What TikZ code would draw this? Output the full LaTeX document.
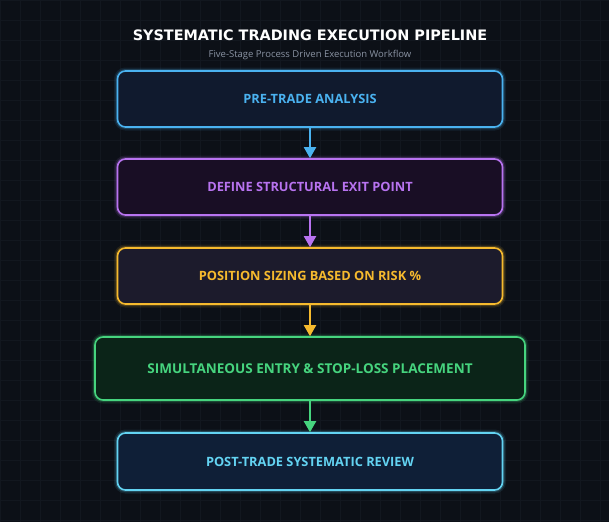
\documentclass[tikz,border=0pt]{standalone}
\usepackage{fontspec}
\setmainfont{Open Sans}
\newfontfamily\pesante{DejaVu Sans}
\usetikzlibrary{arrows.meta, positioning}
\definecolor{sfondo}{HTML}{0C1017}
\definecolor{griglia}{HTML}{12171F}
\definecolor{blu}{HTML}{4AB2F0}
\definecolor{blufill}{HTML}{101A2E}
\definecolor{viola}{HTML}{B873F0}
\definecolor{violafill}{HTML}{190E25}
\definecolor{giallo}{HTML}{F6BA2E}
\definecolor{giallofill}{HTML}{1C1B2C}
\definecolor{verde}{HTML}{46D47E}
\definecolor{verdefill}{HTML}{0B2418}
\definecolor{ciano}{HTML}{63D3F2}
\definecolor{cianofill}{HTML}{0F1F37}
\definecolor{sottotitolo}{HTML}{8A93A3}
\tikzset{
  box/.style 2 args={rectangle, rounded corners=8pt, draw=#1, fill=#2, text=#1,
    line width=1.6pt, minimum width=385pt, minimum height=56pt,
    font=\bfseries\fontsize{12.8}{15}\selectfont,
    preaction={draw=#1, line width=7pt, opacity=0.10},
    preaction={draw=#1, line width=4pt, opacity=0.22}},
  freccia/.style={draw=#1, line width=2pt, -{Triangle[width=12pt,length=11pt]}}
}
\begin{document}
\begin{tikzpicture}[x=1pt, y=-1pt]
    % Sfondo
    \useasboundingbox (0,0) rectangle (609,522);
    \fill[sfondo] (0,0) rectangle (609,522);
    \foreach \gx in {0,20,...,600}
        \draw[griglia, line width=0.5pt] (\gx,0) -- (\gx,522);
    \foreach \gy in {0,20,...,520}
        \draw[griglia, line width=0.5pt] (0,\gy) -- (609,\gy);
    % Titolo
    \node[text=white, font=\pesante\bfseries\fontsize{14.4}{17}\selectfont] (titolo) at (310,35) {SYSTEMATIC TRADING EXECUTION PIPELINE};
    \node[text=sottotitolo, font=\fontsize{9.5}{11}\selectfont] (sottotitolo) at (310,55.5) {Five-Stage Process Driven Execution Workflow};
    % Fasi
    \node[box={blu}{blufill}] (analisi) at (310,99) {PRE-TRADE ANALYSIS};
    \node[box={viola}{violafill}] (uscita) at (310,187) {DEFINE STRUCTURAL EXIT POINT};
    \node[box={giallo}{giallofill}] (sizing) at (310,276) {POSITION SIZING BASED ON RISK \%};
    \node[box={verde}{verdefill}, minimum width=430pt, minimum height=63pt, font=\bfseries\fontsize{13.5}{16}\selectfont] (ingresso) at (310,368.5) {SIMULTANEOUS ENTRY \& STOP-LOSS PLACEMENT};
    \node[box={ciano}{cianofill}, minimum height=57pt] (revisione) at (310,461.5) {POST-TRADE SYSTEMATIC REVIEW};
    % Frecce
    \draw[freccia=blu] (analisi) -- (uscita);
    \draw[freccia=viola] (uscita) -- (sizing);
    \draw[freccia=giallo] (sizing) -- (ingresso);
    \draw[freccia=verde] (ingresso) -- (revisione);
\end{tikzpicture}
\end{document}
